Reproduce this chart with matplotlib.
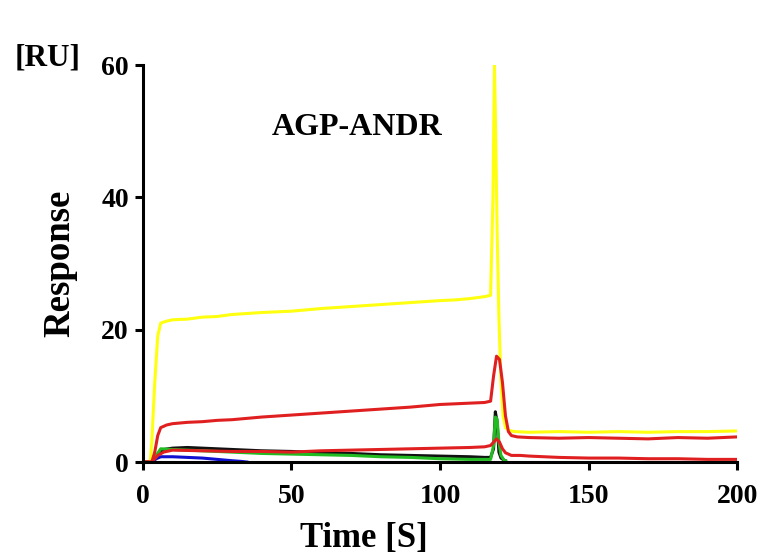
import matplotlib
matplotlib.use("Agg")
import matplotlib.pyplot as plt

# ---- data ----
t_yellow = [0, 2.5, 3, 4, 5, 6, 8, 10, 15, 20, 25, 30, 40, 50, 60, 70, 80, 90, 100, 105, 110, 115, 117, 117.8, 118.3, 118.7, 119.2, 119.8, 120.5, 121.2, 122, 123, 125, 130, 140, 150, 160, 170, 180, 190, 200]
v_yellow = [0, 0, 3, 12, 19, 21, 21.3, 21.5, 21.6, 21.9, 22.0, 22.3, 22.6, 22.8, 23.2, 23.5, 23.8, 24.1, 24.4, 24.5, 24.7, 25.0, 25.2, 40, 60, 50, 35, 22, 12, 7, 5.2, 4.8, 4.6, 4.5, 4.6, 4.5, 4.6, 4.5, 4.6, 4.6, 4.7]

t_red1 = [0, 3, 4, 5, 6, 8, 10, 15, 20, 25, 30, 40, 50, 60, 70, 80, 90, 100, 105, 110, 115, 117, 118, 119, 120, 121, 122, 123, 124, 126, 130, 140, 150, 160, 170, 180, 190, 200]
v_red1 = [0, 0, 1.5, 4, 5.2, 5.6, 5.8, 6.0, 6.1, 6.3, 6.4, 6.8, 7.1, 7.4, 7.7, 8.0, 8.3, 8.7, 8.8, 8.9, 9.0, 9.2, 13, 16, 15.5, 12, 7, 4.6, 4.0, 3.8, 3.7, 3.6, 3.7, 3.6, 3.5, 3.7, 3.6, 3.8]

t_red2 = [0, 3, 5, 7, 10, 20, 30, 40, 50, 60, 70, 80, 90, 100, 110, 115, 117, 118, 119, 120, 121, 122, 124, 127, 130, 140, 150, 160, 170, 180, 190, 200]
v_red2 = [0, 0, 1.0, 1.5, 1.8, 1.7, 1.6, 1.6, 1.5, 1.7, 1.8, 1.9, 2.0, 2.1, 2.2, 2.3, 2.5, 3.0, 3.5, 3.0, 2.0, 1.4, 1.0, 1.0, 0.9, 0.7, 0.6, 0.6, 0.5, 0.5, 0.4, 0.4]

t_black = [0, 3, 5, 7, 10, 15, 20, 30, 40, 50, 60, 70, 80, 90, 100, 110, 115, 117, 118, 118.6, 119.2, 119.8, 120.5, 121.5, 122]
v_black = [0, 0, 1.0, 1.9, 2.1, 2.2, 2.1, 1.9, 1.7, 1.6, 1.4, 1.3, 1.1, 1.0, 0.9, 0.8, 0.7, 0.7, 2.0, 7.6, 6.0, 1.5, 0.6, 0.3, 0.2]

t_green = [0, 3, 4.5, 6, 10, 15, 20, 30, 40, 50, 60, 70, 80, 90, 100, 110, 115, 117, 118, 118.6, 119.2, 119.8, 120.5, 121.5, 122]
v_green = [0, 0, 1.0, 2.0, 1.9, 1.8, 1.7, 1.5, 1.3, 1.2, 1.1, 1.0, 0.8, 0.7, 0.5, 0.4, 0.4, 0.4, 2.5, 6.8, 6.5, 3.0, 1.0, 0.3, 0.2]

t_blue = [0, 3, 4.5, 6, 10, 15, 20, 25, 30, 33, 35]
v_blue = [0, 0, 0.5, 0.8, 0.8, 0.7, 0.6, 0.4, 0.2, 0.1, 0.0]

x_ticks = [0, 50, 100, 150, 200]
y_ticks = [0, 20, 40, 60]

plt.rcParams['font.family'] = ['Liberation Serif', 'DejaVu Serif']
plt.rcParams['font.weight'] = 'bold'

fig = plt.figure(figsize=(7.64, 5.56), dpi=100)
ax = fig.add_axes([0.187, 0.169, 0.778, 0.714])

lw = 2.2
ax.plot(t_black, v_black, color='#111111', lw=lw)
ax.plot(t_green, v_green, color='#22bb22', lw=lw)
ax.plot(t_blue, v_blue, color='#1010d0', lw=lw)
ax.plot(t_yellow, v_yellow, color='#ffff10', lw=lw)
ax.plot(t_red2, v_red2, color='#e02020', lw=lw)
ax.plot(t_red1, v_red1, color='#e02020', lw=lw)

ax.set_xlim(0, 200)
ax.set_ylim(0, 60)
ax.set_xticks(x_ticks)
ax.set_yticks(y_ticks)
for s in ['top', 'right']:
    ax.spines[s].set_visible(False)
for s in ['left', 'bottom']:
    ax.spines[s].set_linewidth(2.2)
ax.tick_params(direction='out', length=6, width=2.2, labelsize=20, pad=4)
ax.tick_params(axis='x', pad=10)
for lab in ax.get_xticklabels() + ax.get_yticklabels():
    lab.set_fontweight('bold')

ax.set_xlabel('Time [S]', fontsize=25, fontweight='bold')
ax.xaxis.set_label_coords(0.372, -0.152)
ax.set_ylabel('Response', fontsize=26.5, fontweight='bold')
ax.yaxis.set_label_coords(-0.11, 0.5)
ax.text(72, 50.5, 'AGP-ANDR', fontsize=23, fontweight='bold', ha='center', va='center')
fig.text(0.062, 0.895, '[RU]', fontsize=22.5, fontweight='bold', ha='center', va='center')

fig.savefig('out.png', dpi=100)
